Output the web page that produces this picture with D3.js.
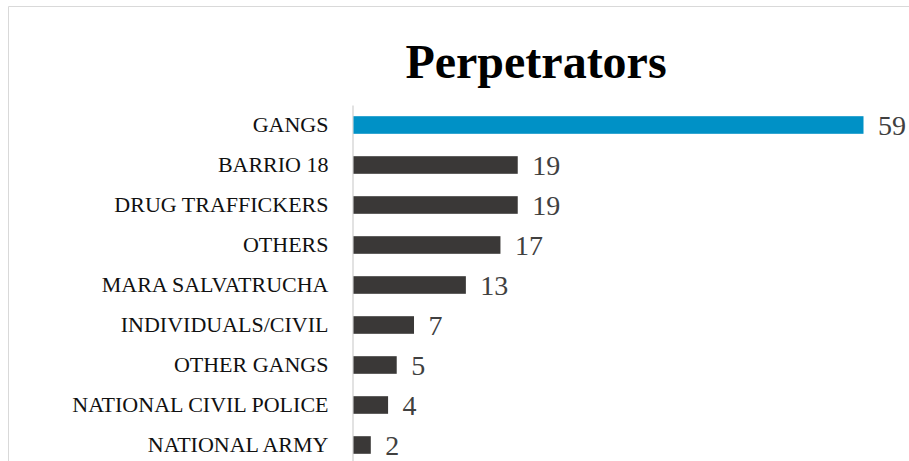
<!DOCTYPE html>
<html>
<head>
<meta charset="utf-8">
<script src="https://cdn.jsdelivr.net/npm/d3@7"></script>
<style>
  html, body { margin: 0; padding: 0; background: #fff; }
  svg { display: block; }
</style>
</head>
<body>
<svg id="chart" width="909" height="461"></svg>
<script>
const title = "Perpetrators";
const categories = ["GANGS", "BARRIO 18", "DRUG TRAFFICKERS", "OTHERS", "MARA SALVATRUCHA",
  "INDIVIDUALS/CIVIL", "OTHER GANGS", "NATIONAL CIVIL POLICE", "NATIONAL ARMY"];
const values = [59, 19, 19, 17, 13, 7, 5, 4, 2];
const highlight = ["GANGS"];

const data = categories.map((c, i) => ({ cat: c, val: values[i] }));
const svg = d3.select("#chart");
const fontFamily = "'Liberation Serif', 'Times New Roman', serif";

// chart area border (cropped at right/bottom)
svg.append("path")
  .attr("d", "M8.5,461 L8.5,6.5 L909,6.5")
  .attr("fill", "none").attr("stroke", "#d9d9d9").attr("stroke-width", 1);

svg.append("text")
  .attr("x", 536).attr("y", 78)
  .attr("text-anchor", "middle")
  .attr("font-family", fontFamily).attr("font-weight", "bold")
  .attr("font-size", 48).attr("fill", "#000")
  .text(title);

const x = d3.scaleLinear().domain([0, d3.max(values)]).range([353, 863]);
const y = d3.scaleBand().domain(categories).range([105, 465])
  .paddingInner(0.56).paddingOuter(0.28);

const axis = svg.append("g")
  .attr("transform", "translate(352.5,0)")
  .call(d3.axisLeft(y).tickSize(0).tickPadding(24));
axis.select(".domain").attr("stroke", "#d9d9d9").attr("stroke-width", 1.5);
axis.selectAll("text")
  .attr("font-family", fontFamily).attr("font-size", 22).attr("fill", "#111")
  .attr("dy", "0.3em");

svg.append("g").selectAll("rect").data(data).join("rect")
  .attr("x", x(0) + 0.5)
  .attr("y", d => y(d.cat))
  .attr("width", d => x(d.val) - x(0))
  .attr("height", y.bandwidth())
  .attr("fill", d => highlight.includes(d.cat) ? "#0091c6" : "#3a3837");

svg.append("g").selectAll("text").data(data).join("text")
  .attr("x", d => x(d.val) + 15)
  .attr("y", d => y(d.cat) + y.bandwidth() / 2)
  .attr("dy", "0.36em")
  .attr("font-family", fontFamily).attr("font-size", 28).attr("fill", "#404040")
  .text(d => d.val);
</script>
</body>
</html>
